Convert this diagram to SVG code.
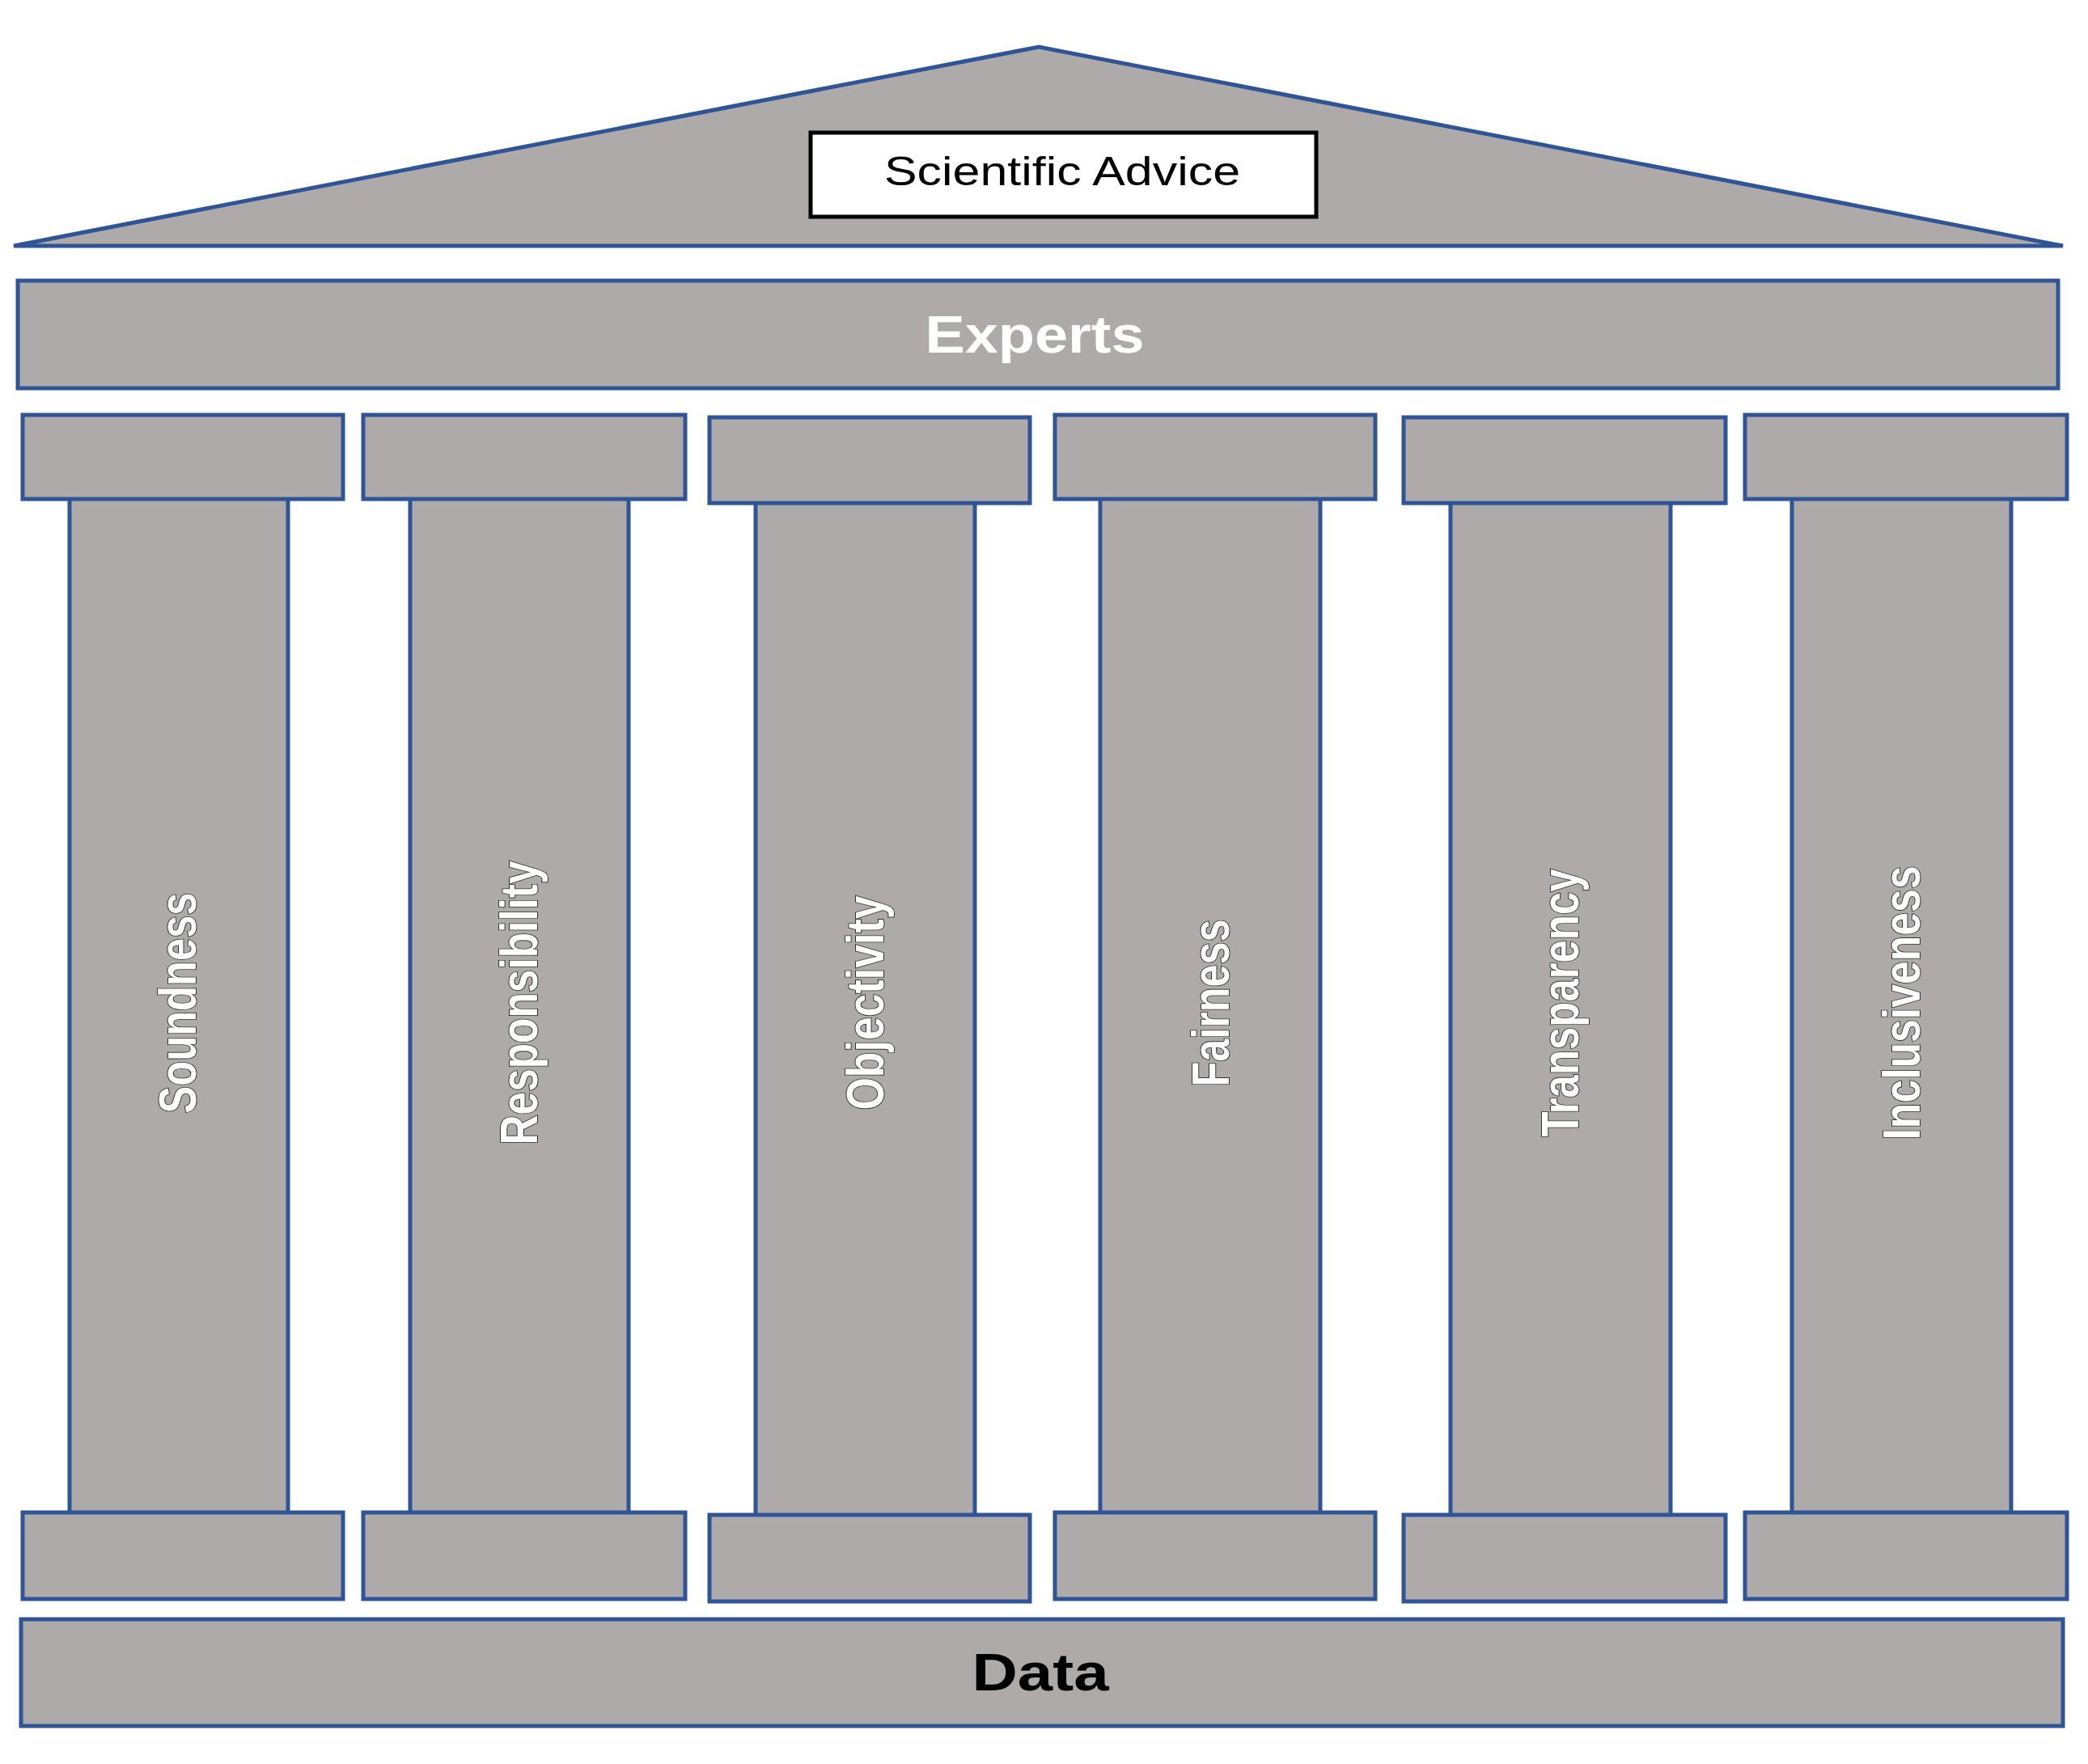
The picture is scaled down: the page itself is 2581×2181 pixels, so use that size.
<svg xmlns="http://www.w3.org/2000/svg" width="2581" height="2181" viewBox="0 0 2581 2181">
<style>
.s{fill:#aeaaa9;stroke:#2f5597;stroke-width:5}
.p{font-family:"Liberation Sans",Arial,sans-serif;font-weight:bold;font-size:64px;fill:#fff;stroke:#333;stroke-width:2;paint-order:stroke}
</style>
<rect width="2581" height="2181" fill="#fff"/>
<g id="roof"><polygon class="s" points="17,304 1284,58 2550,304"/>
<rect x="1002" y="164" width="625" height="104" fill="#fff" stroke="#000" stroke-width="5"/>
<text x="1313" y="229" text-anchor="middle" font-family="Liberation Sans,Arial,sans-serif" font-size="50" textLength="440" lengthAdjust="spacingAndGlyphs" fill="#000">Scientific Advice</text></g>
<g id="experts"><rect class="s" x="22" y="347" width="2522" height="133"/>
<text x="1279" y="436" text-anchor="middle" font-family="Liberation Sans,Arial,sans-serif" font-weight="bold" font-size="64" textLength="271" lengthAdjust="spacingAndGlyphs" fill="#fff">Experts</text></g>
<g id="p1"><rect class="s" x="86" y="612" width="270" height="1262"/><rect class="s" x="28" y="513" width="396" height="104"/><rect class="s" x="28" y="1870" width="396" height="107"/>
<text class="p" transform="translate(242,1240) rotate(-90)" text-anchor="middle" textLength="273" lengthAdjust="spacingAndGlyphs">Soundness</text></g>
<g id="p2"><rect class="s" x="507" y="612" width="270" height="1262"/><rect class="s" x="449" y="513" width="398" height="104"/><rect class="s" x="449" y="1870" width="398" height="107"/>
<text class="p" transform="translate(664,1240) rotate(-90)" text-anchor="middle" textLength="351" lengthAdjust="spacingAndGlyphs">Responsibility</text></g>
<g id="p3"><rect class="s" x="934" y="616" width="271" height="1262"/><rect class="s" x="877" y="516" width="396" height="106"/><rect class="s" x="877" y="1873" width="396" height="107"/>
<text class="p" transform="translate(1092,1240) rotate(-90)" text-anchor="middle" textLength="265" lengthAdjust="spacingAndGlyphs">Objectivity</text></g>
<g id="p4"><rect class="s" x="1360" y="612" width="272" height="1262"/><rect class="s" x="1304" y="513" width="396" height="104"/><rect class="s" x="1304" y="1870" width="396" height="107"/>
<text class="p" transform="translate(1519,1240) rotate(-90)" text-anchor="middle" textLength="207" lengthAdjust="spacingAndGlyphs">Fairness</text></g>
<g id="p5"><rect class="s" x="1793" y="616" width="272" height="1262"/><rect class="s" x="1735" y="516" width="398" height="106"/><rect class="s" x="1735" y="1873" width="398" height="107"/>
<text class="p" transform="translate(1951,1240) rotate(-90)" text-anchor="middle" textLength="331" lengthAdjust="spacingAndGlyphs">Transparency</text></g>
<g id="p6"><rect class="s" x="2215" y="612" width="271" height="1262"/><rect class="s" x="2157" y="513" width="398" height="104"/><rect class="s" x="2157" y="1870" width="398" height="107"/>
<text class="p" transform="translate(2373,1240) rotate(-90)" text-anchor="middle" textLength="339" lengthAdjust="spacingAndGlyphs">Inclusiveness</text></g>
<g id="data"><rect class="s" x="26" y="2002" width="2524" height="132"/>
<text x="1286" y="2090" text-anchor="middle" font-family="Liberation Sans,Arial,sans-serif" font-weight="bold" font-size="64" textLength="169" lengthAdjust="spacingAndGlyphs" fill="#000">Data</text></g>
<g id="connectors"/>
</svg>
